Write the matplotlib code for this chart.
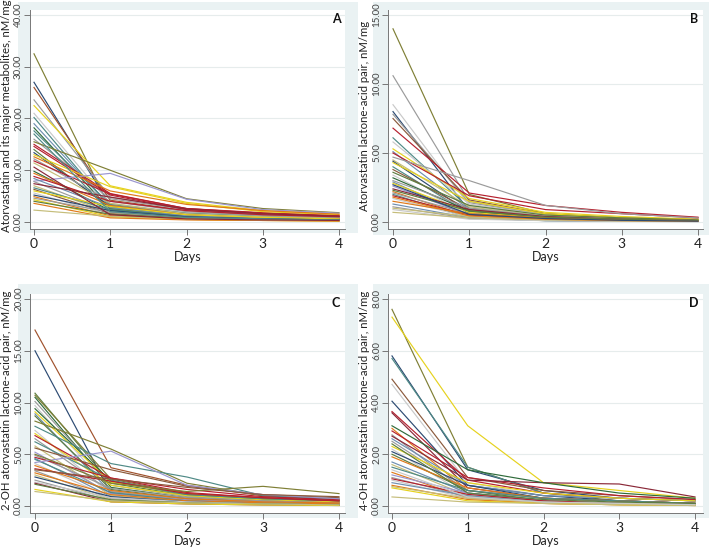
import matplotlib
matplotlib.use("Agg")
import matplotlib.pyplot as plt
from matplotlib.patches import Rectangle

plt.rcParams['font.family'] = ['Lato', 'DejaVu Sans']

W, H = 709, 549

days = [0, 1, 2, 3, 4]
day_ticks = [0, 1, 2, 3, 4]

ylabel_a = "Atorvastatin and its major metabolites, nM/mg"
ylabel_b = "Atorvastatin lactone-acid pair, nM/mg"
ylabel_c = "2-OH atorvastatin lactone-acid pair, nM/mg"
ylabel_d = "4-OH atorvastatin lactone-acid pair, nM/mg"

yticks_a = [0, 10, 20, 30, 40]
yticks_b = [0, 5, 10, 15]
yticks_c = [0, 5, 10, 15, 20]
yticks_d = [0, 2, 4, 6, 8]

palette = {
    "o": "#7f7f35", "n": "#2c4a72", "s": "#a0522d", "g": "#9b9b9b",
    "y": "#e6d21e", "l": "#c9c9c9", "t": "#4f8a86", "m": "#8a2838",
    "d": "#2f6b3a", "r": "#b5202e", "a": "#e07a1a", "v": "#9a96cf",
    "k": "#c5bd7a", "b": "#6f8fb0", "e": "#5d7d40", "w": "#8b5a3c",
}

series_a = [
    [32.5, 2.6, 1.2, 0.8, 0.6], [27.0, 3.2, 1.5, 1.0, 0.7], [26.0, 4.2, 2.2, 1.3, 0.9],
    [23.6, 4.8, 2.6, 1.6, 1.1], [22.5, 7.0, 3.8, 2.2, 1.5], [21.0, 3.6, 1.8, 1.1, 0.8],
    [20.2, 2.8, 1.4, 0.9, 0.6], [19.0, 3.0, 1.6, 1.0, 0.7], [18.2, 2.4, 1.0, 0.7, 0.5],
    [17.6, 3.4, 1.7, 1.1, 0.8], [16.0, 4.5, 2.4, 1.4, 1.0], [15.5, 10.0, 4.5, 2.6, 1.8],
    [15.0, 5.5, 2.6, 1.8, 1.2], [14.6, 5.2, 2.4, 1.6, 1.1], [14.0, 2.6, 1.1, 0.7, 0.5],
    [13.4, 3.0, 1.3, 0.8, 0.6], [13.0, 6.8, 3.6, 2.0, 1.4], [12.2, 4.0, 2.0, 1.2, 0.9],
    [11.8, 5.4, 2.6, 1.7, 1.2], [11.4, 3.6, 1.6, 1.0, 0.7], [7.9, 9.4, 4.4, 2.4, 1.7],
    [9.8, 2.2, 0.9, 0.5, 0.4], [9.4, 3.2, 1.4, 0.8, 0.6], [8.8, 4.0, 2.2, 1.4, 1.0],
    [8.4, 2.8, 1.2, 0.7, 0.5], [7.8, 2.0, 0.8, 0.5, 0.3], [7.4, 4.8, 2.5, 1.6, 1.1],
    [7.0, 1.8, 0.8, 0.5, 0.3], [6.6, 2.4, 1.0, 0.6, 0.4], [6.3, 1.6, 0.7, 0.4, 0.3],
    [6.0, 3.0, 1.4, 0.9, 0.6], [5.6, 1.4, 0.6, 0.4, 0.2], [5.2, 2.2, 1.0, 0.6, 0.4],
    [4.9, 1.2, 0.5, 0.3, 0.2], [4.6, 1.9, 0.8, 0.5, 0.3], [4.3, 1.0, 0.5, 0.3, 0.2],
    [4.0, 1.5, 0.7, 0.4, 0.3], [3.6, 0.8, 0.4, 0.3, 0.2], [2.3, 1.1, 0.6, 0.4, 0.3],
    [12.6, 6.0, 3.4, 2.2, 1.5], [17.0, 2.0, 0.9, 0.6, 0.4], [10.6, 1.4, 0.6, 0.4, 0.3],
]
colors_a = "onsgyltbdt" "gorrenygrk" "vdarbgmktw" "ylnagyeaka" "tm"

series_b = [
    [14.0, 2.0, 0.6, 0.3, 0.15], [10.6, 1.5, 0.5, 0.3, 0.15], [8.5, 1.2, 0.4, 0.2, 0.1],
    [8.0, 0.8, 0.3, 0.2, 0.1], [7.8, 1.4, 0.5, 0.3, 0.15], [7.5, 1.6, 0.6, 0.3, 0.2],
    [6.8, 2.1, 1.2, 0.7, 0.35], [6.1, 1.0, 0.4, 0.2, 0.1], [5.8, 1.3, 0.5, 0.3, 0.15],
    [5.3, 1.7, 0.7, 0.4, 0.2], [5.1, 0.9, 0.3, 0.2, 0.1], [5.0, 1.9, 0.9, 0.6, 0.3],
    [4.7, 3.0, 1.2, 0.6, 0.3], [4.5, 1.1, 0.4, 0.2, 0.1], [4.4, 0.7, 0.3, 0.15, 0.1],
    [4.3, 1.5, 0.6, 0.3, 0.15], [4.0, 0.6, 0.2, 0.1, 0.05], [3.8, 0.9, 0.3, 0.2, 0.1],
    [3.6, 1.2, 0.5, 0.3, 0.15], [3.4, 0.5, 0.2, 0.1, 0.05], [3.2, 0.8, 0.3, 0.2, 0.1],
    [3.0, 1.0, 0.4, 0.2, 0.1], [2.9, 0.4, 0.15, 0.1, 0.05], [2.8, 0.7, 0.3, 0.15, 0.1],
    [2.6, 0.5, 0.2, 0.1, 0.05], [2.4, 0.9, 0.4, 0.2, 0.1], [2.2, 0.4, 0.15, 0.1, 0.05],
    [2.1, 0.6, 0.25, 0.15, 0.1], [2.0, 0.3, 0.1, 0.05, 0.05], [1.9, 0.5, 0.2, 0.1, 0.05],
    [1.7, 0.35, 0.15, 0.1, 0.05], [1.5, 0.6, 0.3, 0.15, 0.1], [1.3, 0.3, 0.1, 0.05, 0.05],
    [1.1, 0.25, 0.1, 0.05, 0.03], [1.0, 0.4, 0.2, 0.1, 0.05], [0.9, 0.2, 0.1, 0.05, 0.03],
    [0.7, 0.3, 0.15, 0.08, 0.05], [2.3, 0.8, 0.35, 0.2, 0.1], [1.8, 0.45, 0.2, 0.1, 0.05],
    [2.7, 0.55, 0.25, 0.12, 0.06],
]
colors_b = "oglngwrtly" "brgknytwel" "dgbyvmagtr" "labgklkean"

series_c = [
    [17.0, 3.7, 2.0, 1.0, 0.6], [15.0, 1.2, 0.6, 0.4, 0.3], [10.9, 2.2, 1.0, 0.6, 0.4],
    [10.7, 2.6, 1.2, 0.7, 0.5], [10.5, 1.8, 0.8, 0.5, 0.3], [10.1, 2.0, 0.9, 0.5, 0.3],
    [9.7, 1.5, 0.6, 0.4, 0.3], [9.4, 2.4, 1.1, 0.7, 0.5], [9.1, 2.3, 1.2, 0.8, 0.5],
    [8.9, 1.3, 0.6, 0.4, 0.2], [8.7, 1.6, 0.7, 0.5, 0.3], [8.2, 5.5, 2.2, 1.0, 0.7],
    [7.7, 4.1, 2.8, 1.0, 0.6], [7.3, 1.1, 0.5, 0.3, 0.2], [7.0, 2.0, 1.0, 0.6, 0.4],
    [6.8, 2.7, 1.6, 0.9, 0.6], [6.5, 1.4, 0.6, 0.4, 0.2], [6.2, 2.5, 1.1, 0.7, 0.5],
    [5.8, 1.0, 0.5, 0.3, 0.2], [5.6, 3.5, 1.9, 1.1, 0.8], [5.2, 1.2, 0.6, 0.4, 0.2],
    [4.9, 1.7, 0.8, 0.5, 0.3], [4.7, 2.7, 1.3, 0.8, 0.5], [4.6, 0.9, 0.4, 0.2, 0.1],
    [4.5, 1.3, 0.5, 0.3, 0.2], [4.2, 5.3, 2.0, 1.1, 0.7], [4.1, 0.8, 0.4, 0.2, 0.1],
    [3.9, 1.5, 0.7, 0.4, 0.3], [3.6, 2.4, 1.2, 0.8, 0.5], [3.4, 0.7, 0.3, 0.2, 0.1],
    [3.2, 1.1, 0.5, 0.3, 0.2], [3.0, 0.6, 0.3, 0.2, 0.1], [2.8, 0.9, 0.4, 0.2, 0.1],
    [2.5, 0.5, 0.3, 0.2, 0.1], [2.3, 0.8, 0.4, 0.2, 0.1], [2.2, 0.4, 0.2, 0.1, 0.05],
    [2.1, 0.6, 0.3, 0.2, 0.1], [1.6, 0.4, 0.2, 0.1, 0.05], [1.4, 0.5, 0.3, 0.2, 0.1],
    [5.0, 2.2, 1.4, 1.9, 1.2], [3.5, 2.6, 1.8, 1.1, 0.9],
]
colors_c = "sneodgldyb" "eotlyrgtkw" "vgrbtvlarg" "aknglmeyko" "w"

series_d = [
    [7.6, 1.5, 0.5, 0.2, 0.1], [7.3, 3.1, 0.9, 0.6, 0.3], [5.8, 1.4, 0.6, 0.3, 0.2],
    [5.7, 1.5, 0.5, 0.3, 0.2], [4.9, 1.1, 0.6, 0.4, 0.25], [4.7, 0.9, 0.4, 0.3, 0.2],
    [4.05, 0.8, 0.4, 0.2, 0.1], [3.65, 1.0, 0.5, 0.3, 0.2], [3.6, 0.7, 0.3, 0.2, 0.1],
    [3.0, 0.6, 0.3, 0.2, 0.1], [2.9, 1.1, 0.7, 0.4, 0.25], [2.75, 0.5, 0.2, 0.1, 0.05],
    [2.6, 0.8, 0.4, 0.3, 0.2], [2.5, 0.6, 0.3, 0.2, 0.1], [2.3, 0.9, 0.5, 0.3, 0.2],
    [2.2, 0.4, 0.2, 0.1, 0.05], [2.1, 0.8, 0.3, 0.2, 0.1], [2.0, 0.6, 0.2, 0.1, 0.05],
    [1.9, 0.7, 0.3, 0.2, 0.1], [1.7, 0.5, 0.2, 0.1, 0.05], [1.6, 0.4, 0.2, 0.1, 0.05],
    [1.5, 0.6, 0.3, 0.2, 0.1], [1.3, 0.3, 0.1, 0.05, 0.02], [1.2, 0.5, 0.2, 0.1, 0.05],
    [1.1, 0.35, 0.15, 0.1, 0.05], [1.05, 0.45, 0.2, 0.1, 0.05], [1.0, 0.3, 0.1, 0.05, 0.02],
    [0.9, 0.4, 0.15, 0.1, 0.05], [0.8, 0.25, 0.1, 0.05, 0.02], [0.75, 0.3, 0.15, 0.1, 0.05],
    [0.7, 0.2, 0.1, 0.05, 0.02], [0.35, 0.15, 0.1, 0.05, 0.02], [2.7, 1.0, 0.9, 0.85, 0.35],
    [3.1, 1.4, 0.9, 0.5, 0.3], [2.4, 0.5, 0.25, 0.15, 0.1], [1.4, 0.35, 0.15, 0.1, 0.05],
]
colors_d = "oyntwlnrma" "rgbgylneab" "ktavgrlbak" "ykmdel"

panels = [
    # series, colours, yticks, ylabel, letter, ax px box (l, t, r, b), x0px, x4px, y0px, ytop px, bg box, ylabel x
    (series_a, colors_a, yticks_a, ylabel_a, "A", (30, 10, 345, 229), 34, 339, 222, 15, (18, 2, 358, 233), 7),
    (series_b, colors_b, yticks_b, ylabel_b, "B", (388, 10, 703, 229), 393, 698, 222, 15, (373, 2, 709, 235), 364),
    (series_c, colors_c, yticks_c, ylabel_c, "C", (30, 294, 345, 513), 35, 339, 506, 299, (18, 284, 358, 518), 7),
    (series_d, colors_d, yticks_d, ylabel_d, "D", (388, 294, 703, 513), 392, 695, 506, 299, (373, 284, 709, 518), 364),
]

fig = plt.figure(figsize=(W / 100, H / 100), dpi=100)
fig.patch.set_facecolor("white")

for series, cols, yt, ylab, letter, box, x0p, x4p, y0p, ytp, bg, ylx in panels:
    bl, bt, br, bb = bg
    fig.add_artist(Rectangle((bl / W, 1 - bb / H), (br - bl) / W, (bb - bt) / H,
                             transform=fig.transFigure, facecolor="#eaf2f3",
                             edgecolor="none", zorder=0))
    l, t, r, b = box
    ax = fig.add_axes([l / W, 1 - b / H, (r - l) / W, (b - t) / H])
    ax.set_facecolor("white")
    ax.set_zorder(1)
    pxx = (x4p - x0p) / 4.0
    ymax = yt[-1]
    pxy = (y0p - ytp) / float(ymax)
    ax.set_xlim(-(x0p - l) / pxx, 4 + (r - x4p) / pxx)
    ax.set_ylim(-(b - y0p) / pxy, ymax + (ytp - t) / pxy)

    for s, c in zip(series, cols):
        ax.plot(days, s, color=palette[c], lw=0.85)

    ax.set_yticks(yt)
    ax.set_yticklabels(["%.2f" % v for v in yt], rotation=90, va="center",
                       fontsize=7.0, color="#444444")
    ax.set_xticks(day_ticks)
    ax.set_xticklabels([str(d) for d in day_ticks], fontsize=10, color="#222222")
    ax.tick_params(axis="both", length=4, width=0.7, color="#777777")
    ax.tick_params(axis="y", pad=1.0)
    ax.tick_params(axis="x", pad=2.5)
    ax.grid(axis="y", color="#e6ecec", lw=0.8)
    ax.set_axisbelow(True)
    for sp in ["top", "right"]:
        ax.spines[sp].set_visible(False)
    for sp in ["left", "bottom"]:
        ax.spines[sp].set_color("#777777")
        ax.spines[sp].set_linewidth(0.7)

    ax.set_xlabel("Days", fontsize=9, color="#222222", labelpad=1.0)
    fig.text(ylx / W, 1 - ((t + y0p) / 2.0) / H, ylab, rotation=90, ha="center",
             va="center", fontsize=8.2, color="#222222")
    ax.text(0.985, 0.985, letter, transform=ax.transAxes, ha="right", va="top",
            fontsize=9, fontweight="bold", color="#111111")

fig.savefig("out.png", dpi=100, facecolor="white")
